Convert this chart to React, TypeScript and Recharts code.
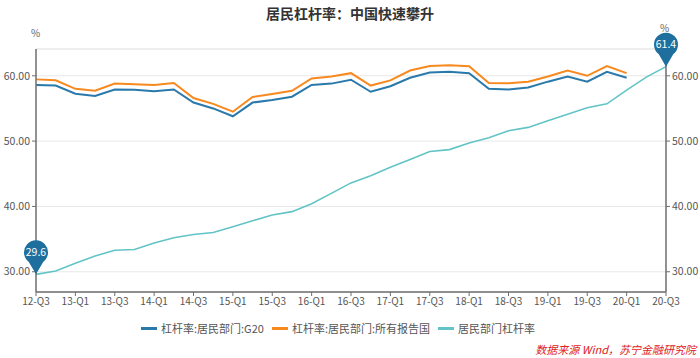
import { LineChart, Line, XAxis, YAxis, CartesianGrid, ReferenceLine } from "recharts";

const quarters = [
  "12-Q3", "12-Q4", "13-Q1", "13-Q2", "13-Q3", "13-Q4", "14-Q1", "14-Q2", "14-Q3", "14-Q4",
  "15-Q1", "15-Q2", "15-Q3", "15-Q4", "16-Q1", "16-Q2", "16-Q3", "16-Q4", "17-Q1", "17-Q2",
  "17-Q3", "17-Q4", "18-Q1", "18-Q2", "18-Q3", "18-Q4", "19-Q1", "19-Q2", "19-Q3", "19-Q4",
  "20-Q1", "20-Q2", "20-Q3",
];

const g20 = [
  58.6, 58.5, 57.25, 56.9, 57.9, 57.85, 57.65, 57.9, 55.9, 55.0,
  53.8, 55.9, 56.3, 56.8, 58.6, 58.8, 59.4, 57.55, 58.4, 59.7,
  60.5, 60.6, 60.4, 58.0, 57.9, 58.2, 59.1, 59.9, 59.1, 60.6,
  59.7, null, null,
];

const allReporting = [
  59.45, 59.3, 58.0, 57.7, 58.8, 58.7, 58.6, 58.9, 56.6, 55.7,
  54.5, 56.75, 57.2, 57.7, 59.6, 59.9, 60.4, 58.5, 59.3, 60.8,
  61.5, 61.6, 61.45, 58.9, 58.85, 59.1, 59.9, 60.8, 60.0, 61.5,
  60.4, null, null,
];

const china = [
  29.6, 30.1, 31.3, 32.4, 33.3, 33.4, 34.4, 35.2, 35.7, 36.0,
  36.9, 37.8, 38.7, 39.2, 40.4, 42.0, 43.6, 44.7, 46.0, 47.2,
  48.4, 48.7, 49.7, 50.5, 51.6, 52.1, 53.1, 54.1, 55.1, 55.7,
  57.8, 59.8, 61.4,
];

const yTicks = [30, 40, 50, 60];
const yDomain: [number, number] = [26.9, 64.1];

const seriesNames = ["杠杆率:居民部门:G20", "杠杆率:居民部门:所有报告国", "居民部门杠杆率"];
const seriesColors = ["#2a79ab", "#f7891f", "#62c4c6"];

const data = quarters.map((q, i) => ({
  q,
  g20: g20[i],
  all: allReporting[i],
  china: china[i],
}));

const FONT = "'Noto Sans CJK SC', 'Noto Sans', sans-serif";
const AXIS = "#6e6e6e";
const PIN = "#1f6f9e";

function renderPin(props: any) {
  const { cx, cy, index, value } = props;
  if (index !== 0 && index !== china.length - 1) return <g key={`p${index}`} />;
  const c = cy - 22;
  return (
    <g key={`p${index}`}>
      <path
        d={`M${cx},${cy} L${cx - 7.2},${c + 9.6} A12,12 0 1 1 ${cx + 7.2},${c + 9.6} Z`}
        fill={PIN}
      />
      <text x={cx} y={c + 3.8} textAnchor="middle" fill="#fff" fontSize={10.5} fontFamily={FONT}>
        {value}
      </text>
    </g>
  );
}

export default function App() {
  return (
    <div style={{ position: "absolute", left: 0, top: 0, width: 700, height: 358, background: "#fff", fontFamily: FONT }}>
      <div style={{ position: "absolute", top: 3, left: 0, width: 700, textAlign: "center", fontSize: 14, fontWeight: 700, color: "#333" }}>
        居民杠杆率：中国快速攀升
      </div>
      <div style={{ position: "absolute", top: 25, left: 31, fontSize: 10, color: "#666" }}>%</div>
      <div style={{ position: "absolute", top: 20, left: 660, fontSize: 10, color: "#666" }}>%</div>
      <LineChart width={700} height={358} data={data} margin={{ top: 49, right: 0, bottom: 36, left: 0 }}>
        <CartesianGrid yAxisId="left" vertical={false} stroke="#e8e8e8" />
        <ReferenceLine yAxisId="left" y={yDomain[1]} stroke="#e8e8e8" />
        <XAxis
          dataKey="q"
          interval={1}
          height={30}
          tick={{ fontSize: 10, fill: "#555", fontFamily: FONT }}
          tickSize={4}
          tickMargin={2}
          axisLine={{ stroke: AXIS, strokeWidth: 1.5 }}
          tickLine={{ stroke: AXIS }}
        />
        <YAxis
          yAxisId="left"
          width={36}
          domain={yDomain}
          ticks={yTicks}
          tickFormatter={(v: number) => v.toFixed(2)}
          tick={{ fontSize: 10.5, fill: "#555", fontFamily: FONT }}
          tickSize={4}
          axisLine={{ stroke: AXIS, strokeWidth: 1.5 }}
          tickLine={{ stroke: AXIS }}
        />
        <YAxis
          yAxisId="right"
          orientation="right"
          width={34}
          domain={yDomain}
          ticks={yTicks}
          tickFormatter={(v: number) => v.toFixed(2)}
          tick={{ fontSize: 10.5, fill: "#555", fontFamily: FONT }}
          tickSize={4}
          axisLine={{ stroke: AXIS, strokeWidth: 1.5 }}
          tickLine={{ stroke: AXIS }}
        />
        <Line yAxisId="left" dataKey="g20" stroke={seriesColors[0]} strokeWidth={2} dot={false} isAnimationActive={false} />
        <Line yAxisId="left" dataKey="all" stroke={seriesColors[1]} strokeWidth={2} dot={false} isAnimationActive={false} />
        <Line yAxisId="right" dataKey="china" stroke={seriesColors[2]} strokeWidth={1.6} dot={renderPin} activeDot={false} isAnimationActive={false} />
      </LineChart>
      <div style={{ position: "absolute", top: 320, left: 0, width: 700, display: "flex", justifyContent: "center", fontSize: 11, color: "#555" }}>
        <div style={{ display: "flex", alignItems: "center", marginLeft: -16 }}>
          {seriesNames.map((n, i) => (
            <div key={n} style={{ display: "flex", alignItems: "center", marginRight: 8 }}>
              <span style={{ display: "inline-block", width: 16, height: 3, background: seriesColors[i], marginRight: 4 }} />
              <span>{n}</span>
            </div>
          ))}
        </div>
      </div>
      <div style={{ position: "absolute", top: 341, right: 4, fontSize: 11, fontStyle: "italic", color: "#e0201c" }}>
        数据来源 Wind，苏宁金融研究院
      </div>
    </div>
  );
}
